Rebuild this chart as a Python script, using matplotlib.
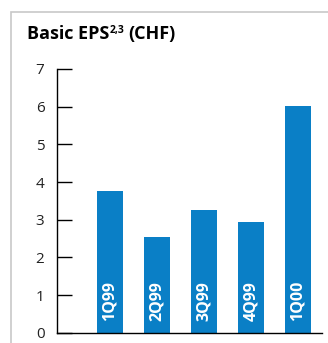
import matplotlib.pyplot as plt
from matplotlib.patches import Rectangle

# quarterly basic earnings per share, CHF
quarters = ["1Q99", "2Q99", "3Q99", "4Q99", "1Q00"]
eps = [3.76, 2.54, 3.25, 2.94, 6.03]
yticks = [0, 1, 2, 3, 4, 5, 6, 7]

bar_color = "#0a7fc6"
font = ["Open Sans", "DejaVu Sans"]


def main():
    fig = plt.figure(figsize=(3.28, 3.43), dpi=100)

    # light grey panel border, open to the right and bottom
    fig.patches.append(Rectangle(
        (10.5 / 328, -0.1), 1.2, 1 - 11.5 / 343 + 0.1,
        transform=fig.transFigure, fill=False,
        edgecolor="#c8c8c8", linewidth=1.2,
    ))

    ax = fig.add_axes([57 / 328, 1 - 332.7 / 343, 265 / 328, (332.7 - 69) / 343])

    x = list(range(len(quarters)))
    ax.bar(x, eps, width=0.553, color=bar_color)

    for xi, q in zip(x, quarters):
        ax.text(xi, 0.3, q, rotation=90, ha="center", va="bottom",
                color="white", fontsize=11.5, fontweight="bold", family=font)

    ax.set_xlim(-1.128, 4.51)
    ax.set_ylim(0, 7)
    ax.set_yticks(yticks)
    ax.set_xticks([])

    for side in ["top", "right"]:
        ax.spines[side].set_visible(False)
    for side in ["left", "bottom"]:
        ax.spines[side].set_linewidth(1.0)

    ax.tick_params(axis="y", direction="in", length=11, width=1.0, pad=9,
                   labelsize=11)
    for lbl in ax.get_yticklabels():
        lbl.set_family(font)
        lbl.set_color("#222222")

    # title with superscript footnote marks
    fig.canvas.draw()
    r = fig.canvas.get_renderer()
    t1 = fig.text(27 / 328, 1 - 34 / 343, "Basic EPS", fontsize=13,
                  fontweight="bold", family=font, va="center")
    bb = t1.get_window_extent(r)
    t2 = fig.text(bb.x1 / 328 + 0.002, bb.y1 / 343 - 0.001, "2,3", fontsize=7.5,
                  fontweight="bold", family=font, va="top")
    bb2 = t2.get_window_extent(r)
    fig.text(bb2.x1 / 328 + 0.012, 1 - 34 / 343, "(CHF)", fontsize=13,
             fontweight="bold", family=font, va="center")

    fig.savefig("out.png", dpi=100)
    plt.close(fig)


if __name__ == "__main__":
    main()
